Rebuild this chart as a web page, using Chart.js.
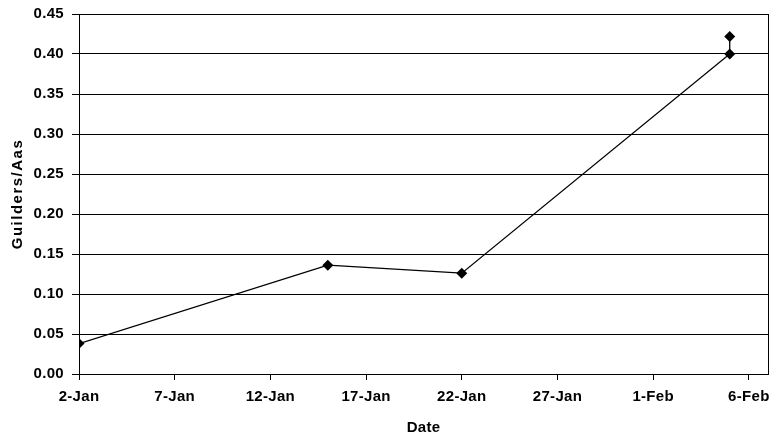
<!DOCTYPE html>
<html>
<head>
<meta charset="utf-8">
<script src="https://cdn.jsdelivr.net/npm/chart.js@4.4.1/dist/chart.umd.min.js"></script>
<style>
html,body{margin:0;padding:0;background:#fff;}
#wrap{width:778px;height:440px;}
</style>
</head>
<body>
<div id="wrap"><canvas id="c" width="778" height="440"></canvas></div>
<script>
// ---- data ----
const dates = ['2-Jan', '15-Jan', '22-Jan', '5-Feb', '5-Feb'];
const values = [0.038, 0.136, 0.126, 0.400, 0.422];
const xTickLabels = ['2-Jan', '7-Jan', '12-Jan', '17-Jan', '22-Jan', '27-Jan', '1-Feb', '6-Feb'];
const yTickValues = [0, 0.05, 0.10, 0.15, 0.20, 0.25, 0.30, 0.35, 0.40, 0.45];

// convert 'd-Mon' strings to day offsets from 2-Jan
const monthStart = {Jan: 0, Feb: 31};
function dayIndex(s) {
  const [d, m] = s.split('-');
  return monthStart[m] + parseInt(d, 10) - 2;
}
const points = dates.map((d, i) => ({x: dayIndex(d), y: values[i]}));
const xTickValues = xTickLabels.map(dayIndex);
const xMax = dayIndex('7-Feb');

const BASE_SPACING = '0.3px';
const borderPlugin = {
  id: 'plotBorder',
  beforeDraw(chart) {
    chart.ctx.letterSpacing = BASE_SPACING;
  },
  afterDraw(chart) {
    const {ctx, chartArea: a} = chart;
    ctx.save();
    ctx.strokeStyle = '#000';
    ctx.lineWidth = 1;
    ctx.strokeRect(Math.round(a.left) + 0.5, Math.round(a.top) + 0.5,
                   Math.round(a.right - a.left), Math.round(a.bottom - a.top));
    ctx.restore();
  }
};

const font = {family: '"Liberation Sans", Arial, sans-serif', weight: 'bold', size: 15};

new Chart(document.getElementById('c'), {
  type: 'line',
  data: {
    datasets: [{
      data: points,
      borderColor: '#000',
      borderWidth: 1.3,
      backgroundColor: '#000',
      pointStyle: 'rectRot',
      pointRadius: 5.5,
      pointBorderWidth: 0,
      tension: 0,
      fill: false
    }]
  },
  options: {
    responsive: false,
    animation: false,
    devicePixelRatio: 1,
    layout: {padding: {left: 0, top: 14, right: 10, bottom: 0}},
    plugins: {legend: {display: false}, tooltip: {enabled: false}},
    scales: {
      x: {
        type: 'linear',
        min: 0,
        max: xMax,
        afterBuildTicks(scale) {
          scale.ticks = xTickValues.map(v => ({value: v}));
        },
        afterFit(scale) { scale.height = 66; scale.paddingRight = 0; scale.paddingLeft = 0; },
        ticks: {
          color: '#000',
          font: font,
          padding: 8,
          maxRotation: 0,
          autoSkip: false,
          callback(v) {
            const i = xTickValues.indexOf(v);
            return i >= 0 ? xTickLabels[i] : '';
          }
        },
        grid: {display: true, drawOnChartArea: false, drawTicks: true, tickLength: 6, color: '#000', lineWidth: 1},
        border: {display: true, color: '#000', width: 1},
        title: {display: true, text: 'Date', color: '#000', font: font, padding: {top: 0, bottom: 3}}
      },
      y: {
        type: 'linear',
        min: 0,
        max: 0.45,
        afterBuildTicks(scale) {
          scale.ticks = yTickValues.map(v => ({value: v}));
        },
        afterFit(scale) {
          scale.width = 79;
          scale.paddingTop = 0;
          scale.paddingBottom = 0;
          if (!scale._spacedTitle) {
            const orig = scale.drawTitle;
            scale.drawTitle = function () {
              this.ctx.letterSpacing = '1.5px';
              orig.apply(this, arguments);
              this.ctx.letterSpacing = BASE_SPACING;
            };
            scale._spacedTitle = true;
          }
        },
        ticks: {
          color: '#000',
          font: font,
          padding: 8,
          callback(v) { return v.toFixed(2); }
        },
        grid: {display: true, drawTicks: true, tickLength: 7, color: '#000', lineWidth: 1},
        border: {display: true, color: '#000', width: 1},
        title: {display: true, text: 'Guilders/Aas', color: '#000', font: font, padding: {top: 9, bottom: 0}}
      }
    }
  },
  plugins: [borderPlugin]
});
</script>
</body>
</html>
